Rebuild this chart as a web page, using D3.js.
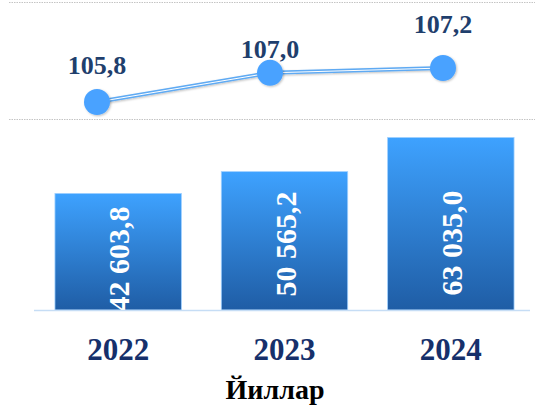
<!DOCTYPE html>
<html>
<head>
<meta charset="utf-8">
<script src="https://cdn.jsdelivr.net/npm/d3@7"></script>
<style>
  body { margin: 0; background: #fff; }
  text { font-family: "Liberation Serif", "Times New Roman", serif; font-weight: bold; }
</style>
</head>
<body>
<script>
let years = ["2022", "2023", "2024"]
let volumes = [42603.8, 50565.2, 63035.0]
let growth = [105.8, 107.0, 107.2]
let axisTitle = "Йиллар"

let svgWidth = 535
let svgHeight = 405

// label placement as in the original
let growthLabelDy = [-28, -15, -35]
let barLabelY = [259, 244, 243]

let fmtRu = function (v, digits) {
    let s = d3.format(",." + digits + "f")(v)
    return s.replace(/,/g, " ").replace(".", ",")
}

let svg = d3.select("body")
    .append("svg")
    .attr("width", svgWidth)
    .attr("height", svgHeight)

let defs = svg.append("defs")
let grad = defs.append("linearGradient")
    .attr("id", "barGrad")
    .attr("x1", 0).attr("y1", 0).attr("x2", 0).attr("y2", 1)
grad.append("stop").attr("offset", "0%").attr("stop-color", "#3ea2ff")
grad.append("stop").attr("offset", "100%").attr("stop-color", "#1f5da5")

defs.append("clipPath")
    .attr("id", "plotClip")
    .append("rect")
    .attr("x", 0).attr("y", 0)
    .attr("width", svgWidth).attr("height", 310)

let shadow = defs.append("filter")
    .attr("id", "shadow")
    .attr("x", "-50%").attr("y", "-50%").attr("width", "200%").attr("height", "200%")
shadow.append("feDropShadow")
    .attr("dx", 1).attr("dy", 1).attr("stdDeviation", 1.2)
    .attr("flood-color", "#000").attr("flood-opacity", 0.25)

// scales
let xScale = d3.scaleBand()
    .domain(years)
    .range([35, 534])
    .paddingInner(0.24)
    .paddingOuter(0.12)

let yScale = d3.scaleLinear()
    .domain([0, 63035])
    .range([310, 137.5])

let xLine = d3.scalePoint()
    .domain(years)
    .range([97, 443])

let yLine = d3.scaleLinear()
    .domain([105.8, 107.2])
    .range([102, 68])

// dotted gridlines
svg.selectAll(".grid")
    .data([2.5, 119.5])
    .enter()
    .append("line")
    .attr("x1", 9)
    .attr("x2", svgWidth)
    .attr("y1", function (d) { return d })
    .attr("y2", function (d) { return d })
    .attr("stroke", "#c4c4c4")
    .attr("stroke-width", 1)
    .attr("stroke-dasharray", "1.5,1")

// bars
svg.selectAll(".bar")
    .data(volumes)
    .enter()
    .append("rect")
    .attr("x", function (d, i) { return xScale(years[i]) })
    .attr("y", function (d) { return yScale(d) })
    .attr("width", xScale.bandwidth())
    .attr("height", function (d) { return yScale(0) - yScale(d) })
    .attr("fill", "url(#barGrad)")
    .attr("stroke", "#9fd0ff")
    .attr("stroke-width", 0.8)

// bar value labels
svg.append("g")
    .attr("clip-path", "url(#plotClip)")
    .selectAll(".barLabel")
    .data(volumes)
    .enter()
    .append("text")
    .attr("transform", function (d, i) {
        return "translate(" + (xScale(years[i]) + xScale.bandwidth() / 2 + 11) + "," + barLabelY[i] + ") rotate(-90)"
    })
    .attr("text-anchor", "middle")
    .attr("font-size", 30)
    .attr("fill", "#fff")
    .text(function (d) { return fmtRu(d, 1) })

// baseline
svg.append("line")
    .attr("x1", 34)
    .attr("x2", 530)
    .attr("y1", yScale(0) + 0.5)
    .attr("y2", yScale(0) + 0.5)
    .attr("stroke", "#c6ddf5")
    .attr("stroke-width", 1.5)

// growth line
let line = d3.line()
    .x(function (d, i) { return xLine(years[i]) })
    .y(function (d) { return yLine(d) })

svg.append("path")
    .datum(growth)
    .attr("d", line)
    .attr("fill", "none")
    .attr("stroke", "#5eaaf3")
    .attr("stroke-width", 4)
    .attr("filter", "url(#shadow)")

svg.append("path")
    .datum(growth)
    .attr("d", line)
    .attr("fill", "none")
    .attr("stroke", "#ffffff")
    .attr("stroke-width", 1)

svg.selectAll(".dot")
    .data(growth)
    .enter()
    .append("circle")
    .attr("cx", function (d, i) { return xLine(years[i]) })
    .attr("cy", function (d) { return yLine(d) })
    .attr("r", 13)
    .attr("fill", "#49a2ff")
    .attr("filter", "url(#shadow)")

svg.selectAll(".dotLabel")
    .data(growth)
    .enter()
    .append("text")
    .attr("x", function (d, i) { return xLine(years[i]) })
    .attr("y", function (d, i) { return yLine(d) + growthLabelDy[i] })
    .attr("text-anchor", "middle")
    .attr("font-size", 26)
    .attr("fill", "#1f3f6d")
    .text(function (d) { return fmtRu(d, 1) })

// x axis
let xAxis = d3.axisBottom(xScale).tickSize(0).tickPadding(0)
let gx = svg.append("g")
    .attr("transform", "translate(0,338)")
    .call(xAxis)
gx.select(".domain").remove()
gx.selectAll("text")
    .attr("dy", 0)
    .attr("y", 22)
    .attr("font-size", 31)
    .attr("font-family", "Liberation Serif, Times New Roman, serif")
    .attr("font-weight", "bold")
    .attr("fill", "#16306b")

// axis title
svg.append("text")
    .attr("x", 275)
    .attr("y", 399)
    .attr("text-anchor", "middle")
    .attr("font-size", 28)
    .attr("fill", "#000")
    .text(axisTitle)
</script>
</body>
</html>
